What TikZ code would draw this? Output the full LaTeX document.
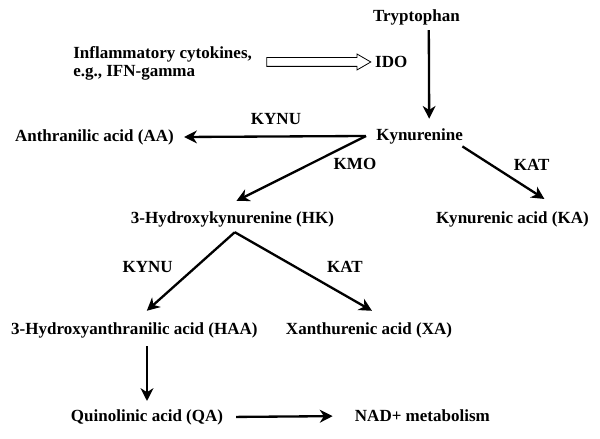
\documentclass[tikz,border=0pt]{standalone}
\usepackage{fontspec}
\setmainfont{Liberation Serif}
\usetikzlibrary{arrows.meta,shapes.arrows}
\begin{document}
\begin{tikzpicture}[
    metab/.style={font=\bfseries\fontsize{12.1}{13.5}\selectfont,inner sep=0.13cm},
    arr/.style={line width=0.058cm,-{Stealth[length=0.32cm,width=0.32cm,inset=0.1cm]}},
    hollowarr/.style={single arrow,draw,line width=0.02cm,minimum height=2.6cm,inner sep=0.1cm,single arrow head extend=0.09cm,single arrow tip angle=60}
    ]
    \useasboundingbox (0,0) rectangle (15,10.975);
    \node[metab] (trp) at (10.41,10.55) {Tryptophan};
    \node[metab] (ido) at (9.78,9.425) {IDO};
    \node[metab,align=left,anchor=west] (infl) at (1.695,9.39) {Inflammatory cytokines,\\e.g., IFN-gamma};
    \node[hollowarr] (ifn2ido) at (7.875,9.425) {};
    \node[metab] (kyn) at (10.49,7.575) {Kynurenine};
    \node[metab] (aa) at (2.36,7.55) {Anthranilic acid (AA)};
    \node[metab] (hk) at (5.81,5.5) {3-Hydroxykynurenine (HK)};
    \node[metab] (ka) at (12.81,5.5) {Kynurenic acid (KA)};
    \node[metab] (haa) at (3.36,2.725) {3-Hydroxyanthranilic acid (HAA)};
    \node[metab] (xa) at (9.225,2.725) {Xanthurenic acid (XA)};
    \node[metab] (qa) at (3.675,0.55) {Quinolinic acid (QA)};
    \node[metab] (nad) at (10.56,0.575) {NAD+ metabolism};
    \node[metab] (kynuA) at (6.9,8.0) {KYNU};
    \node[metab] (kmo) at (8.875,6.875) {KMO};
    \node[metab] (katA) at (13.29,6.85) {KAT};
    \node[metab] (kynuB) at (3.69,4.3) {KYNU};
    \node[metab] (katB) at (8.625,4.3) {KAT};
    \coordinate (kynfork) at ([xshift=-0.12cm]kyn.west);
    \draw[arr] ([xshift=0.31cm]trp.south) to ([xshift=0.24cm,yshift=0.1cm]kyn.north);
    \draw[arr] (kynfork) to ([xshift=0.12cm]aa.east);
    \draw[arr] (kynfork) to ([xshift=0.1cm,yshift=0.12cm]hk.north);
    \draw[arr] ([xshift=-0.15cm,yshift=0.07cm]kyn.south east) to ([xshift=0.8cm,yshift=0.17cm]ka.north);
    \draw[arr] ([xshift=0.06cm]hk.south) to ([xshift=0.31cm,yshift=0.15cm]haa.north);
    \draw[arr] ([xshift=0.06cm]hk.south) to ([xshift=0.075cm,yshift=0.15cm]xa.north);
    \draw[arr,shorten <=0.07cm] (qa.north |- haa.south) to ([yshift=0.07cm]qa.north);
    \draw[arr,shorten <=0.19cm,shorten >=0.42cm] (qa.east) to (nad.west);
\end{tikzpicture}
\end{document}
